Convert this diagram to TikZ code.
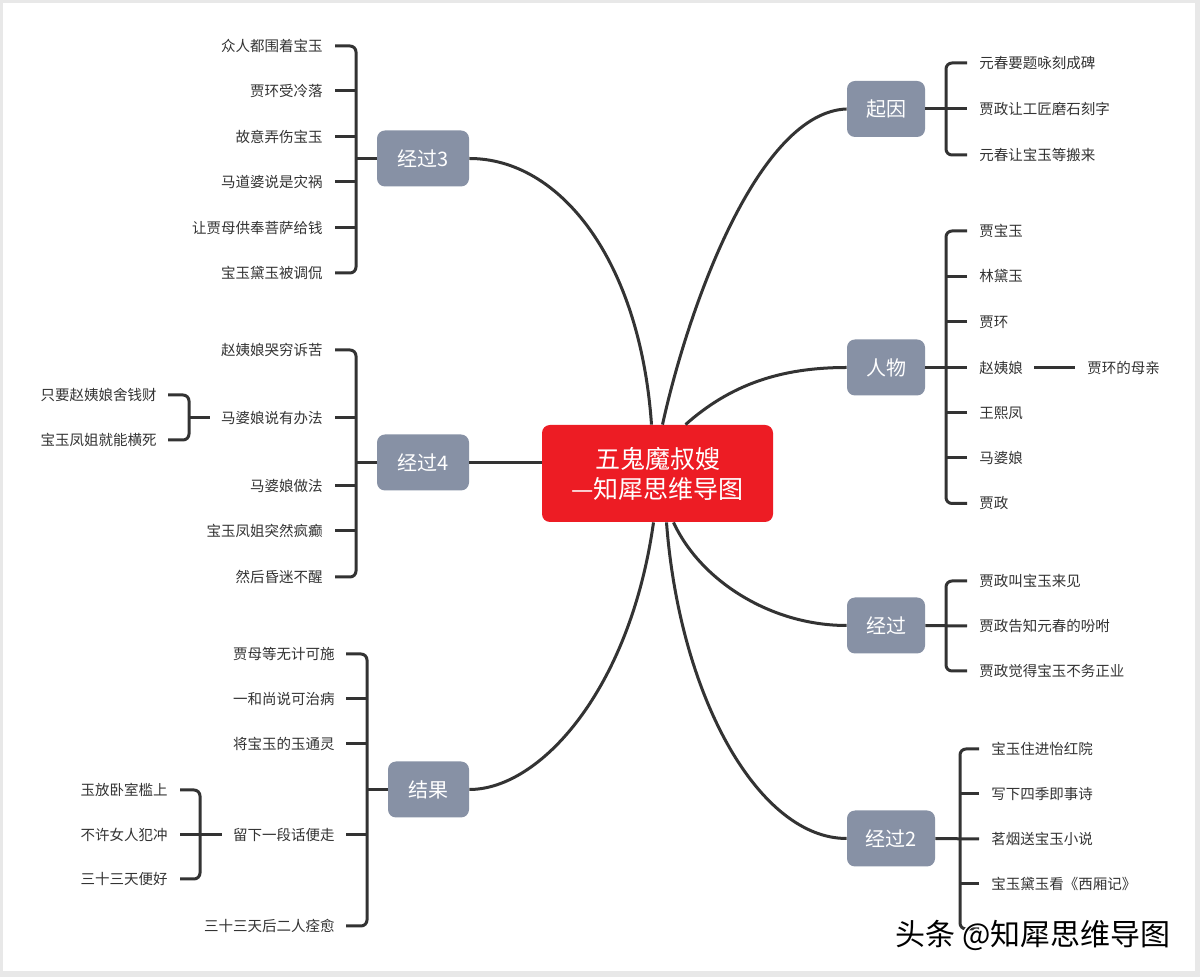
\documentclass[tikz,border=0pt]{standalone}
\usepackage{fontspec}
\setmainfont{Noto Sans CJK SC}
\usetikzlibrary{calc}
\definecolor{ln}{RGB}{51,51,51}
\definecolor{txt}{RGB}{51,51,51}
\definecolor{gbox}{RGB}{135,145,165}
\definecolor{rbox}{RGB}{237,28,36}
\definecolor{frame}{RGB}{232,232,232}
\begin{document}
\begin{tikzpicture}[x=0.5pt,y=-0.5pt,
  item/.style={font=\fontsize{7.25}{8}\selectfont, text=txt, inner sep=0pt},
  ritem/.style={item, anchor=west},
  litem/.style={item, anchor=east},
  branch/.style={fill=gbox, rounded corners=4pt, text=white, font=\fontsize{10}{12}\selectfont, minimum height=28pt, inner sep=0pt},
  rootbox/.style={fill=rbox, rounded corners=4pt, text=white, font=\fontsize{12.5}{15}\selectfont, minimum width=115.5pt, minimum height=48.5pt, align=center, inner sep=0pt},
  conn/.style={line width=1.5pt, draw=ln},
  br/.style={conn, rounded corners=3pt},
  wm/.style={font=\fontsize{15}{18}\selectfont, text=black, inner sep=0pt}
]
\useasboundingbox (0,0) rectangle (1200,977);
\fill[frame] (0,0) rectangle (1200,977);
\fill[white] (3,3) rectangle (1195,971);

% root
\node[rootbox] (c) at (657.5,473.5) {五鬼魔叔嫂\\—知犀思维导图};

% branches
\node[branch, minimum width=39pt] (qy) at (886,109) {起因};
\node[branch, minimum width=39pt] (rw) at (886,367.5) {人物};
\node[branch, minimum width=39pt] (jg) at (886,625.5) {经过};
\node[branch, minimum width=44pt] (jg2) at (891,838.5) {经过2};
\node[branch, minimum width=46pt] (jg3) at (423,158.5) {经过3};
\node[branch, minimum width=46pt] (jg4) at (423,462.5) {经过4};
\node[branch, minimum width=40.5pt] (jk) at (428.5,789.5) {结果};

% main connectors
\draw[conn] ($(c.north)+(5,0)$) .. controls (690,300) and (760,112) .. (qy.west);
\draw[conn] ($(c.north)+(28,0)$) .. controls (730,385) and (780,367.5) .. (rw.west);
\draw[conn] ($(c.south)+(16,0)$) .. controls (700,580) and (770,625.5) .. (jg.west);
\draw[conn] ($(c.south)+(9,0)$) .. controls (680,700) and (760,838.5) .. (jg2.west);
\draw[conn] ($(c.south)+(-4,0)$) .. controls (630,690) and (540,789.5) .. (jk.east);
\draw[conn] ($(c.north)+(-6,0)$) .. controls (640,260) and (560,158.5) .. (jg3.east);
\draw[conn] (jg4.east) -- (jg4.east -| c.west);

% 起因 items
\node[ritem] (q1) at (979,63) {元春要题咏刻成碑};
\node[ritem] (q2) at (979,109) {贾政让工匠磨石刻字};
\node[ritem] (q3) at (979,155) {元春让宝玉等搬来};
\draw[br] ($(q1.west)+(-12,0)$) -- ++(-21,0) -- ($(q3.west)+(-33,0)$) -- ++(21,0);
\draw[conn] (qy.east) -- ($(q2.west)+(-12,0)$);

% 人物 items
\node[ritem] (r1) at (979,231) {贾宝玉};
\node[ritem] (r2) at (979,276.5) {林黛玉};
\node[ritem] (r3) at (979,322) {贾环};
\node[ritem] (r4) at (979,367.5) {赵姨娘};
\node[ritem] (r5) at (979,413) {王熙凤};
\node[ritem] (r6) at (979,458) {马婆娘};
\node[ritem] (r7) at (979,503.5) {贾政};
\node[ritem] (mq) at (1087,367.5) {贾环的母亲};
\draw[br] ($(r1.west)+(-12,0)$) -- ++(-21,0) -- ($(r7.west)+(-33,0)$) -- ++(21,0);
\foreach \n in {r2,r3,r5,r6} \draw[conn] ($(\n.west)+(-12,0)$) -- ++(-21,0);
\draw[conn] (rw.east) -- ($(r4.west)+(-12,0)$);
\draw[conn] ($(r4.east)+(11,0)$) -- ($(mq.west)+(-12,0)$);

% 经过 items
\node[ritem] (g1) at (979,581) {贾政叫宝玉来见};
\node[ritem] (g2) at (979,626) {贾政告知元春的吩咐};
\node[ritem] (g3) at (979,671) {贾政觉得宝玉不务正业};
\draw[br] ($(g1.west)+(-12,0)$) -- ++(-21,0) -- ($(g3.west)+(-33,0)$) -- ++(21,0);
\draw[conn] (jg.east) -- ($(g2.west)+(-12,0)$);

% 经过2 items
\node[ritem] (h1) at (991,749) {宝玉住进怡红院};
\node[ritem] (h2) at (991,794) {写下四季即事诗};
\node[ritem] (h3) at (991,839) {茗烟送宝玉小说};
\node[ritem] (h4) at (991,884) {宝玉黛玉看《西厢记》};
\coordinate (h5) at (991,929);
\draw[br] ($(h1.west)+(-12,0)$) -- ++(-19,0) -- ($(h5)+(-31,0)$) -- ++(19,0);
\foreach \n in {h2,h4} \draw[conn] ($(\n.west)+(-12,0)$) -- ++(-19,0);
\draw[conn] (jg2.east) -- ($(h3.west)+(-12,0)$);

% 经过3 items
\node[litem] (a1) at (323,46) {众人都围着宝玉};
\node[litem] (a2) at (323,91) {贾环受冷落};
\node[litem] (a3) at (323,137) {故意弄伤宝玉};
\node[litem] (a4) at (323,182) {马道婆说是灾祸};
\node[litem] (a5) at (323,228) {让贾母供奉菩萨给钱};
\node[litem] (a6) at (323,273) {宝玉黛玉被调侃};
\coordinate (s3) at ($(a1.east)+(33,0)$);
\draw[br] ($(a1.east)+(12,0)$) -- ++(21,0) -- ($(a6.east)+(33,0)$) -- ++(-21,0);
\foreach \n in {a2,a3,a4,a5} \draw[conn] ($(\n.east)+(12,0)$) -- ++(21,0);
\draw[conn] (jg3.west) -- (jg3.west -| s3);

% 经过4 items
\node[litem] (b1) at (323,350) {赵姨娘哭穷诉苦};
\node[litem] (b2) at (323,418) {马婆娘说有办法};
\node[litem] (b3) at (323,486) {马婆娘做法};
\node[litem] (b4) at (323,531) {宝玉凤姐突然疯癫};
\node[litem] (b5) at (323,577) {然后昏迷不醒};
\coordinate (s4) at ($(b1.east)+(33,0)$);
\draw[br] ($(b1.east)+(12,0)$) -- ++(21,0) -- ($(b5.east)+(33,0)$) -- ++(-21,0);
\foreach \n in {b2,b3,b4} \draw[conn] ($(\n.east)+(12,0)$) -- ++(21,0);
\draw[conn] (jg4.west) -- (jg4.west -| s4);
\node[litem] (bs1) at (157,395) {只要赵姨娘舍钱财};
\node[litem] (bs2) at (157,440) {宝玉凤姐就能横死};
\coordinate (ss4) at ($(bs1.east)+(32,0)$);
\draw[br] ($(bs1.east)+(11,0)$) -- ++(21,0) -- ($(bs2.east)+(32,0)$) -- ++(-21,0);
\draw[conn] ($(b2.west)+(-11,0)$) -- (ss4 |- b2.west);

% 结果 items
\node[litem] (k1) at (335,654) {贾母等无计可施};
\node[litem] (k2) at (335,699) {一和尚说可治病};
\node[litem] (k3) at (335,744) {将宝玉的玉通灵};
\node[litem] (k4) at (335,835) {留下一段话便走};
\node[litem] (k5) at (335,926) {三十三天后二人痊愈};
\coordinate (sk) at ($(k1.east)+(32,0)$);
\draw[br] ($(k1.east)+(11,0)$) -- ++(21,0) -- ($(k5.east)+(32,0)$) -- ++(-21,0);
\foreach \n in {k2,k3,k4} \draw[conn] ($(\n.east)+(11,0)$) -- ++(21,0);
\draw[conn] (jk.west) -- (jk.west -| sk);
\node[litem] (ks1) at (168,790) {玉放卧室槛上};
\node[litem] (ks2) at (168,835) {不许女人犯冲};
\node[litem] (ks3) at (168,879) {三十三天便好};
\coordinate (ssk) at ($(ks1.east)+(32,0)$);
\draw[br] ($(ks1.east)+(12,0)$) -- ++(20,0) -- ($(ks3.east)+(32,0)$) -- ++(-20,0);
\draw[conn] ($(ks2.east)+(12,0)$) -- ($(k4.west)+(-11,0)$);

% watermark
\foreach \dx/\dy in {-1.5/0,1.5/0,0/-1.5,0/1.5}
  \node[wm, text=white] at ($(1033,935)+(\dx,\dy)$) {头条 @知犀思维导图};
\node[wm] (wmk) at (1033,935) {头条 @知犀思维导图};
\end{tikzpicture}
\end{document}
